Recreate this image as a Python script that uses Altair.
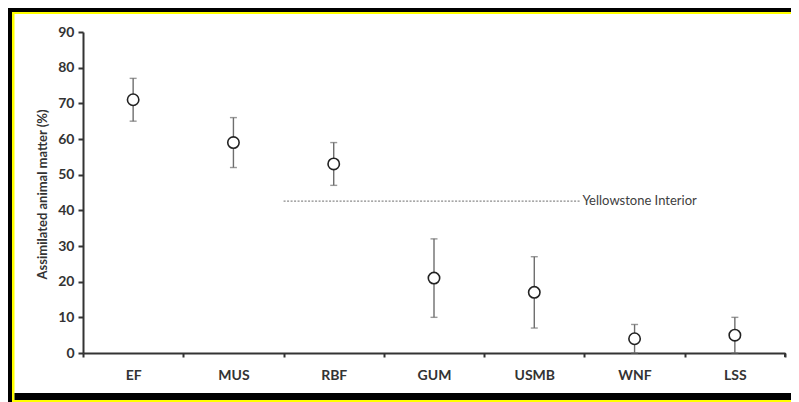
import altair as alt
import pandas as pd

sites = ["EF", "MUS", "RBF", "GUM", "USMB", "WNF", "LSS"]
means = [71, 59, 53, 21, 17, 4, 5]
lows = [65, 52, 47, 10, 7, 0, 0]
highs = [77, 66, 59, 32, 27, 8, 10]
ref_value = [42.6]
ref_start = ["RBF"]
ref_end = ["WNF"]
ref_label = ["Yellowstone Interior"]
y_ticks = [0, 10, 20, 30, 40, 50, 60, 70, 80, 90]

df = pd.DataFrame({"site": sites, "mean": means, "lo": lows, "hi": highs})
ref = pd.DataFrame({"start": ref_start, "end": ref_end, "v": ref_value, "label": ref_label})
one = pd.DataFrame({"a": [0]})

W, H = 702, 321
HALF = W / len(sites) / 2
FONT = "Lato"
TXT = "#333333"

xscale = alt.Scale(domain=sites, paddingInner=0, paddingOuter=0)
yscale = alt.Scale(domain=[0, 90], nice=False)

xaxis = alt.Axis(
    labelAngle=0, tickBand="extent", tickSize=4, tickWidth=2, tickColor=TXT,
    domainColor=TXT, domainWidth=2, labelFont=FONT, labelFontSize=14,
    labelFontWeight="bold", labelColor=TXT, labelPadding=11, title=None,
)
yaxis = alt.Axis(
    values=y_ticks, tickCount=10, labelOverlap=False, title="Assimilated animal matter (%)",
    grid=False, tickSize=5, tickWidth=2, tickColor=TXT, domainColor=TXT, domainWidth=2,
    labelFont=FONT, labelFontSize=14, labelFontWeight="bold", labelColor=TXT,
    labelPadding=4, titleFont=FONT, titleFontSize=13, titleFontWeight="bold",
    titleColor=TXT, titleX=-34, titleY=162, titleAngle=-90, titleBaseline="bottom",
    titleAlign="center",
)


def X(field):
    return alt.X(field, scale=xscale, sort=sites, axis=xaxis, title=None)


def Y(field):
    return alt.Y(field, scale=yscale, axis=yaxis, title="Assimilated animal matter (%)")


base = alt.Chart(df)

bars = base.mark_rule(color="#6e6e6e", strokeWidth=1.4).encode(
    x=X("site:N"), y=Y("lo:Q"), y2="hi:Q"
)
cap_hi = base.mark_tick(color="#6e6e6e", thickness=1.4, size=7, orient="horizontal").encode(
    x=X("site:N"), y=Y("hi:Q")
)
cap_lo = base.mark_tick(color="#6e6e6e", thickness=1.4, size=7, orient="horizontal").encode(
    x=X("site:N"), y=Y("lo:Q")
)
pts = base.mark_point(
    shape="circle", filled=True, fill="white", stroke="#222222", strokeWidth=1.6,
    size=130, opacity=1,
).encode(x=X("site:N"), y=Y("mean:Q"))

rline = alt.Chart(ref).mark_rule(
    color="#8a8a8a", strokeWidth=1.3, strokeDash=[2, 1.5],
    xOffset=-HALF, x2Offset=-HALF - 4,
).encode(
    x=X("start:N"),
    x2=alt.X2("end:N"),
    y=Y("v:Q"),
)
rtext = alt.Chart(ref).mark_text(
    align="left", baseline="middle", dx=-HALF - 2, font=FONT, fontSize=13, color="#404040"
).encode(
    x=X("end:N"),
    y=Y("v:Q"),
    text="label:N",
)

end_tick = alt.Chart(one).mark_rule(color=TXT, strokeWidth=2).encode(
    x=alt.value(W), y=alt.value(H), y2=alt.value(H + 4)
)


def hline(x1, x2, yc, w, col):
    return alt.Chart(one).mark_rule(color=col, strokeWidth=w, strokeCap="butt").encode(
        x=alt.value(x1), x2=alt.value(x2), y=alt.value(yc)
    )


def vline(xc, y1, y2, w, col):
    return alt.Chart(one).mark_rule(color=col, strokeWidth=w, strokeCap="butt").encode(
        x=alt.value(xc), y=alt.value(y1), y2=alt.value(y2)
    )


L, T = 75, 24
TW, TH = 783, 394
frame = [
    hline(-L, TW - L, -T + 2, 4, "#000000"),
    hline(-L + 4, TW - L, -T + 5, 2, "#ffff00"),
    vline(-L + 2, -T, TH - T, 4, "#000000"),
    vline(-L + 5.25, -T + 4, TH - T, 2.5, "#ffff00"),
    hline(-L + 6.5, TW - L, 364.5, 7, "#000000"),
    hline(-L + 4, TW - L, 369, 2, "#ffff00"),
]

chart = alt.layer(
    bars, cap_hi, cap_lo, pts, rline, rtext, end_tick, *frame
).properties(
    width=W, height=H,
    padding={"left": L, "top": T, "right": TW - L - W, "bottom": TH - T - H},
    autosize=alt.AutoSizeParams(type="none"),
    background="white",
).configure_view(stroke=None)

chart.save("out.html", embed_options={"renderer": "svg", "actions": False})
